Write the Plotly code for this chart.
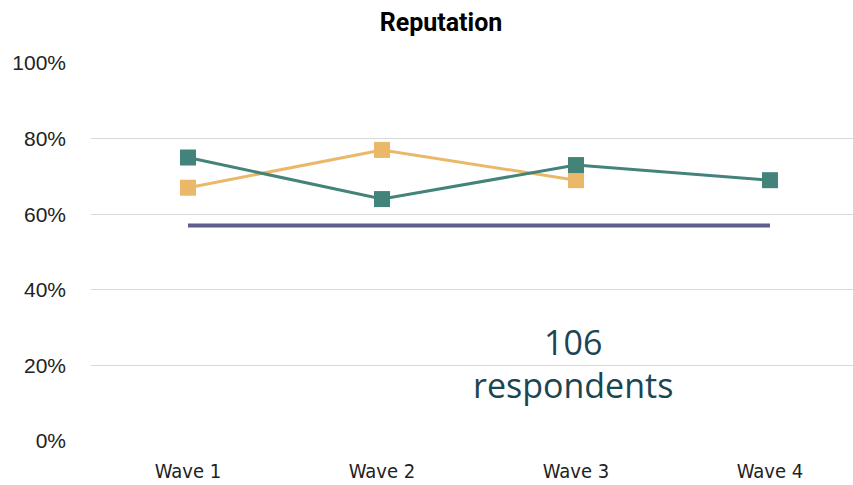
import plotly.graph_objects as go

waves = ["Wave 1", "Wave 2", "Wave 3", "Wave 4"]
series_green = [75, 64, 73, 69]
series_orange = [67, 77, 69]
benchmark = [57, 57, 57, 57]
y_ticks = [0, 20, 40, 60, 80, 100]
y_tick_labels = ["0%", "20%", "40%", "60%", "80%", "100%"]
title_text = "Reputation"
note_count = "106"
note_label = "respondents"

fig = go.Figure()
fig.add_trace(go.Scatter(x=waves, y=benchmark, mode="lines",
                         line=dict(color="#5F5D8E", width=4), showlegend=False,
                         hoverinfo="skip"))
fig.add_trace(go.Scatter(x=waves[:len(series_orange)], y=series_orange, mode="lines+markers",
                         line=dict(color="#EBB86A", width=3),
                         marker=dict(symbol="square", size=16, color="#EBB86A"),
                         showlegend=False))
fig.add_trace(go.Scatter(x=waves, y=series_green, mode="lines+markers",
                         line=dict(color="#43837A", width=3),
                         marker=dict(symbol="square", size=16, color="#43837A"),
                         showlegend=False))

fig.add_annotation(x=(573 - 91) / 762, y=(441 - 342) / 378, xref="paper", yref="paper",
                   xanchor="center", yanchor="middle", text=note_count, showarrow=False,
                   font=dict(family="Open Sans", size=34, color="#1B4552"))
fig.add_annotation(x=(573 - 91) / 762, y=(441 - 385) / 378, xref="paper", yref="paper",
                   xanchor="center", yanchor="middle", text=note_label, showarrow=False,
                   font=dict(family="Open Sans", size=34, color="#1B4552"))

fig.update_layout(
    width=853, height=485,
    margin=dict(l=91, r=0, t=63, b=44),
    paper_bgcolor="white", plot_bgcolor="white",
    title=dict(text="<b>" + title_text + "</b>", x=441 / 853, xref="container", xanchor="center",
               y=1 - 22 / 485, yanchor="middle", yref="container",
               font=dict(family="Roboto", size=25, color="black")),
    xaxis=dict(type="category", range=[-0.5, 3.428], showgrid=False, zeroline=False,
               showline=False, ticks="", ticklabelstandoff=16,
               tickfont=dict(family="DejaVu Sans Condensed", size=20, color="#222")),
    yaxis=dict(range=[0, 100], tickvals=y_ticks, ticktext=y_tick_labels, showgrid=True,
               gridcolor="#D9D9D9", gridwidth=1.3, zeroline=False, showline=False,
               ticks="", ticklabelstandoff=24,
               tickfont=dict(family="Liberation Sans", size=21, color="#222")),
)
fig.write_html("out.html", config={"displayModeBar": False},
               post_script="document.body.style.margin='0';")
